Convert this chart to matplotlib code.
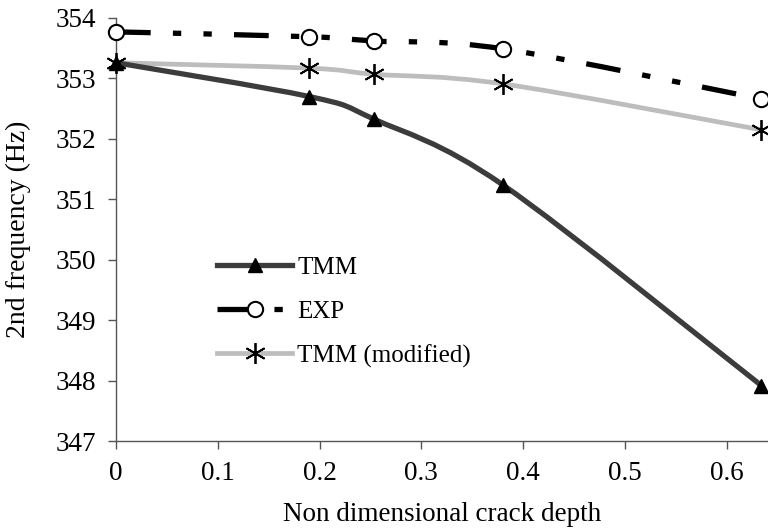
import matplotlib
matplotlib.use("Agg")
import matplotlib.pyplot as plt
from matplotlib.path import Path
from matplotlib.patches import PathPatch
from matplotlib.lines import Line2D

# ---- data ----
crack_depth = [0.0, 0.19, 0.253, 0.38, 0.634]
tmm = [353.26, 352.70, 352.33, 351.24, 347.92]
exp = [353.77, 353.69, 353.62, 353.49, 352.66]
tmm_mod = [353.26, 353.17, 353.07, 352.91, 352.15]
x_ticks = [0, 0.1, 0.2, 0.3, 0.4, 0.5, 0.6]
x_tick_labels = ["0", "0.1", "0.2", "0.3", "0.4", "0.5", "0.6"]
y_ticks = [347, 348, 349, 350, 351, 352, 353, 354]
labels = ["TMM", "EXP", "TMM (modified)"]

plt.rcParams['font.family'] = ['Liberation Serif', 'DejaVu Serif']
plt.rcParams['lines.scale_dashes'] = False

fig = plt.figure(figsize=(7.68, 5.29), dpi=100)
ax = fig.add_axes([0.151, 0.166, 0.849, 0.800])


def smooth_path(xs, ys):
    """Excel-like smoothed line: Catmull-Rom segments as cubic Bezier curves."""
    pts = list(zip(xs, ys))
    n = len(pts)
    verts = [pts[0]]
    codes = [Path.MOVETO]
    for i in range(n - 1):
        p0 = pts[i - 1] if i > 0 else pts[i]
        p1 = pts[i]
        p2 = pts[i + 1]
        p3 = pts[i + 2] if i + 2 < n else pts[i + 1]
        c1 = (p1[0] + (p2[0] - p0[0]) / 6.0, p1[1] + (p2[1] - p0[1]) / 6.0)
        c2 = (p2[0] - (p3[0] - p1[0]) / 6.0, p2[1] - (p3[1] - p1[1]) / 6.0)
        verts += [c1, c2, p2]
        codes += [Path.CURVE4] * 3
    return Path(verts, codes)


c_tmm = '#3c3c3c'
c_mod = '#bdbdbd'
c_exp = 'black'
exp_dash = (0, (25, 16, 6, 16, 6, 16))

# lines
ax.add_patch(PathPatch(smooth_path(crack_depth, tmm_mod), fill=False,
                       edgecolor=c_mod, lw=3.4, zorder=2, capstyle='butt'))
ax.add_patch(PathPatch(smooth_path(crack_depth, tmm), fill=False,
                       edgecolor=c_tmm, lw=3.8, zorder=2, capstyle='butt'))
ax.add_patch(PathPatch(smooth_path(crack_depth, exp), fill=False,
                       edgecolor=c_exp, lw=3.8, linestyle=exp_dash, zorder=2,
                       capstyle='butt'))

# markers
ax.plot(crack_depth, tmm, linestyle='none', marker='^', ms=10, mfc='black',
        mec='black', zorder=4, clip_on=False)
ax.plot(crack_depth, exp, linestyle='none', marker='o', ms=11, mfc='white',
        mec='black', mew=1.5, zorder=4, clip_on=False)
ax.plot(crack_depth, tmm_mod, linestyle='none', marker=(6, 2, 0), ms=15,
        mfc='none', mec='black', mew=1.3, zorder=4, clip_on=False)

ax.set_xlim(0, 0.6405)
ax.set_ylim(347, 354)
ax.set_xticks(x_ticks)
ax.set_xticklabels(x_tick_labels)
ax.set_yticks(y_ticks)

for s in ['top', 'right']:
    ax.spines[s].set_visible(False)
for s in ['left', 'bottom']:
    ax.spines[s].set_color('#555555')
    ax.spines[s].set_linewidth(1.0)
ax.tick_params(axis='both', direction='out', length=6, width=1.0,
               color='#555555', labelsize=19.5, pad=8)

ax.set_xlabel("Non dimensional crack depth", fontsize=19.5, labelpad=12)
ax.set_ylabel("2nd frequency (Hz)", fontsize=20, labelpad=18)

handles = [
    Line2D([], [], color=c_tmm, lw=3.8, marker='^', ms=10, mfc='black', mec='black'),
    Line2D([], [], color=c_exp, lw=3.8, linestyle=exp_dash, marker='o', ms=11,
           mfc='white', mec='black', mew=1.5),
    Line2D([], [], color=c_mod, lw=3.4, marker=(6, 2, 0), ms=15, mfc='none',
           mec='black', mew=1.3),
]
ax.legend(handles, labels, loc='center left', bbox_to_anchor=(0.155, 0.305),
          frameon=False, fontsize=18, handlelength=3.0, handletextpad=0.2,
          labelspacing=0.85, borderpad=0, borderaxespad=0)

fig.savefig("out.png", dpi=100)
